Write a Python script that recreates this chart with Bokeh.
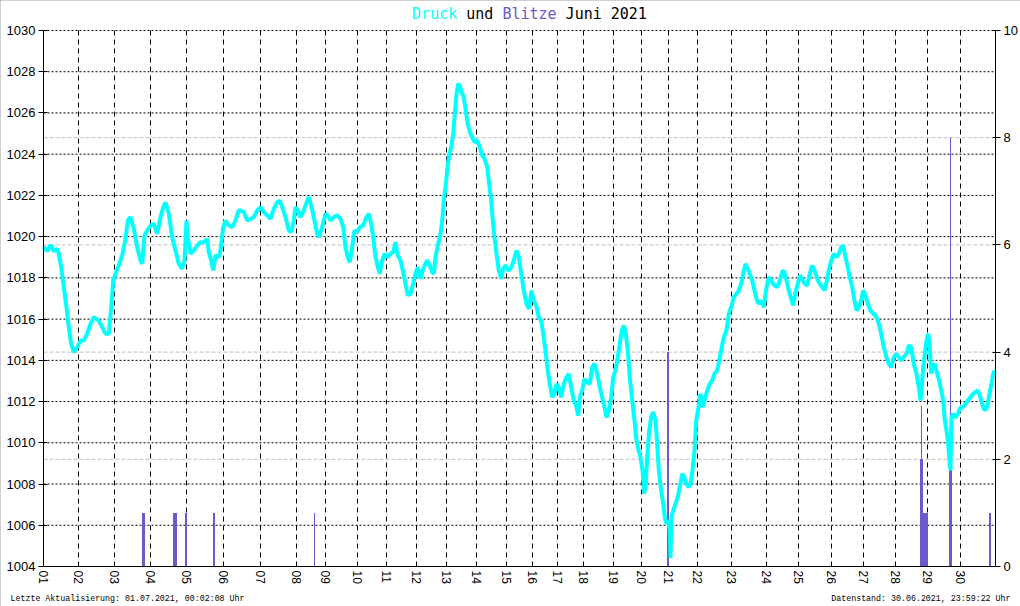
import math
from bokeh.plotting import figure
from bokeh.models import (Range1d, LinearAxis, FixedTicker, SingleIntervalTicker, Label)
from bokeh.embed import file_html
from bokeh.resources import INLINE

# ---------------- data ----------------
tage_pos = [0, 35, 71, 107, 143, 180, 217, 253, 282, 314, 343, 373, 403, 433, 463,
            489, 514, 540, 570, 598, 625, 654, 688, 723, 755, 788, 820, 852, 884, 917]
tage_labels = ["%02d" % d for d in range(1, 31)]
x_end = 952

druck_idx = [
    0, 4, 7, 10, 13.7, 15.3, 17.7, 20.3, 23, 25.3, 27.7, 30.3, 33.7, 37, 40.3, 43.7, 47, 50.3,
    55.3, 58.7, 62, 65.3, 67.7, 69.7, 72, 75.3, 78.7, 82, 84.3, 87, 90.3, 93.7, 97, 98.7, 101,
    103.7, 107, 110.3, 113.7, 117, 119.7, 122, 125.3, 128.7, 132, 135.3, 138.7, 141, 143, 144.3,
    147, 150.3, 153.7, 157, 160.3, 163.7, 165.3, 167.7, 169.7, 172, 175.3, 177, 179.7, 182,
    185.3, 188.7, 192, 195.3,
    197, 200.3, 203.7, 207, 210.3, 213.7, 217, 220.3, 223.7, 227, 230.3, 233.7, 236.3, 238.7,
    242, 245.3, 247.7, 250.3, 252, 254.3, 257, 260.3, 263.7, 265.3, 267.7, 270.3, 273.7, 275.3,
    278.7, 282, 284.3, 287, 290.3, 293.7, 297, 299.7, 302, 304.3, 306.3, 308.7, 311, 313.7,
    316.3, 319.7, 323, 325.3, 327.7, 329.7, 332, 334.3, 336.3, 338.7, 341, 343.7, 347, 349.7,
    352, 354.3, 357, 359.3, 362, 364.3, 367, 369.7, 372, 374.3,
    377, 380.3, 383.7, 386.3, 388.7, 390.3, 392, 394.3, 397, 398.7, 400.3, 402, 403.7, 405.3,
    407.7, 409.7, 411.3, 413, 414.7, 416.3, 418, 420.3, 422.7, 424.3, 426.3, 428.7, 431, 433.7,
    436.3, 438.7, 441, 443.7, 445.3, 447.7, 449.3, 451, 453, 455.3, 457.7, 459.7, 462, 464.7,
    467, 469.7, 473, 475.3, 477.7, 480.3, 483, 485.3, 488, 490.3, 492.7, 495.3, 497.7,
    499.7, 502, 504.3, 506.3, 508.7, 511, 513, 515.3, 517.7, 520.3, 523, 525.3, 527.7, 530.3,
    533, 534.7, 536.3, 538.7, 541, 543.7, 546.3, 548.7, 551, 553.7, 556.3, 558.7, 561, 563,
    565.3, 567.7, 569.7, 572, 574.3, 576.3, 578.3, 580.3, 582.3, 584.3, 586.3, 588.7, 591, 593,
    595, 597, 599, 600.7, 602.3, 603.7, 605.7, 607.7, 609.7, 612, 613.7, 615.3, 617.7, 619.7,
    621.3, 623, 624.7, 626.3, 627, 628, 629.7, 632, 634.3, 636.3, 638.7, 641, 643, 645, 647,
    649, 651, 652.7, 655, 657, 659, 661, 663.7, 666.3, 668.7, 671, 673.7, 675.7,
    677, 680.3, 683, 685.3, 687.7, 690.3, 693, 695.3, 697.7, 699.7, 702, 704.3, 706.3, 708.7,
    711, 713, 715.3, 717.7, 720.3, 722, 724.3, 726.3, 728.7, 731, 733.7, 736.3, 738.7, 740.3,
    742.7, 745.3, 747.7, 749.7, 752, 754.3, 756.3, 758.7, 761, 763.7, 766.3, 768.7, 771, 773.7,
    776.3, 778.7, 781, 783, 785.3, 787.7, 790.3, 793, 795.3, 797.7, 799.7, 802, 804.3, 806.3,
    808.7, 811, 813, 815.3, 817.7, 819.7, 822, 824.3, 827, 829.7, 832, 834.3, 836.3,
    840.3, 843, 845.3, 847.7, 850.3, 853, 855.3, 857.7, 860.3, 863, 865.3, 867.7, 870.3, 873,
    875.3, 877, 878.3, 879.7, 881.3, 883, 884.7, 886.3, 887.7, 889.3, 891.3, 893.7, 895.7,
    897.7, 899.7, 901.3, 903, 904.7, 906, 907, 908, 909.7, 912, 914.3, 917, 919.7, 922, 924.3,
    927, 929.7, 932, 934.3, 936.3, 938.7, 941, 943.7, 946, 948, 949.7, 951.3,
]
druck_hpa = [
    1019.5, 1019.3, 1019.6, 1019.3, 1019.41, 1019.17, 1018.52, 1017.55, 1016.58, 1015.61,
    1014.80, 1014.40, 1014.64, 1014.96, 1014.96, 1015.29, 1015.77, 1016.09, 1015.93, 1015.61,
    1015.29, 1015.29, 1016.58, 1017.87, 1018.20, 1018.60, 1019.09, 1019.89, 1020.78, 1020.95,
    1020.38, 1019.49, 1018.84, 1018.68, 1020.06, 1020.30, 1020.54, 1020.62, 1020.14, 1020.95,
    1021.43, 1021.67, 1021.11, 1019.97, 1019.33, 1018.68, 1018.44, 1018.84, 1020.78, 1019.97,
    1019.17, 1019.33, 1019.57, 1019.73, 1019.73, 1019.89, 1019.25, 1018.84, 1018.36, 1019.09,
    1019.00, 1019.33, 1020.46, 1020.78, 1020.54, 1020.46, 1020.78, 1021.27,
    1021.27, 1021.19, 1020.78, 1020.86, 1020.95, 1021.27, 1021.43, 1021.19, 1021.03, 1020.86,
    1021.35, 1021.67, 1021.75, 1021.43, 1020.95, 1020.30, 1020.22, 1020.78, 1021.43, 1021.27,
    1020.95, 1021.27, 1021.75, 1021.92, 1021.51, 1020.95, 1020.14, 1019.97, 1020.46, 1021.11,
    1021.03, 1020.78, 1020.95, 1021.03, 1020.86, 1020.46, 1019.49, 1019.00, 1018.76, 1019.49,
    1020.30, 1020.22, 1020.46, 1020.54, 1020.95, 1021.11, 1020.62, 1019.97, 1019.00, 1018.52,
    1018.20, 1018.84, 1019.17, 1019.00, 1019.17, 1019.25, 1019.73, 1019.09, 1018.84, 1018.36,
    1017.71, 1017.15, 1017.23, 1017.71, 1018.20, 1018.52,
    1017.96, 1018.52, 1018.85, 1018.60, 1018.28, 1018.20, 1019.01, 1019.57, 1020.14, 1020.78,
    1021.75, 1022.40, 1023.21, 1023.86, 1024.34, 1024.99, 1025.96, 1026.93, 1027.41, 1027.33,
    1027.01, 1026.77, 1025.96, 1025.47, 1025.07, 1024.83, 1024.58, 1024.67, 1024.34, 1023.94,
    1023.78, 1023.37, 1022.72, 1021.75, 1020.78, 1019.97, 1019.17, 1018.36, 1017.96, 1018.44,
    1018.60, 1018.36, 1018.44, 1018.76, 1019.33, 1019.01, 1018.20, 1017.39, 1016.74, 1016.50,
    1017.39, 1016.90, 1016.66, 1016.09, 1015.93,
    1015.28, 1014.48, 1013.51, 1012.86, 1012.21, 1012.38, 1012.86, 1012.70, 1012.21, 1012.86,
    1013.18, 1013.35, 1012.70, 1012.05, 1011.73, 1011.32, 1012.21, 1012.54, 1013.10, 1012.94,
    1012.86, 1013.67, 1013.83, 1013.35, 1012.70, 1012.21, 1011.73, 1011.24, 1011.57, 1012.21,
    1013.18, 1013.51, 1014.15, 1014.80, 1015.45, 1015.69, 1015.28, 1014.48, 1013.18, 1012.05,
    1011.08, 1010.11, 1009.63, 1009.30, 1008.66, 1007.53, 1008.01, 1009.30, 1010.60, 1011.24,
    1011.49, 1011.08, 1009.95, 1008.66, 1007.69, 1007.04, 1006.39, 1006.07, 1006.23, 1005.75,
    1004.40, 1006.39, 1006.72, 1007.04, 1007.36, 1007.85, 1008.50, 1008.33, 1008.01, 1007.85,
    1008.01, 1008.66, 1009.63, 1011.08, 1011.73, 1012.38, 1011.73, 1012.05, 1012.54, 1012.86,
    1013.02, 1013.35, 1013.51, 1014.00,
    1014.32, 1015.12, 1015.45, 1016.26, 1016.58, 1017.06, 1017.23, 1017.39, 1017.71, 1018.20,
    1018.68, 1018.44, 1018.20, 1017.87, 1017.39, 1016.98, 1016.74, 1016.90, 1016.58, 1017.23,
    1017.87, 1018.03, 1017.79, 1017.63, 1017.55, 1017.87, 1018.28, 1018.36, 1017.95, 1017.39,
    1016.98, 1016.66, 1017.31, 1017.71, 1018.12, 1017.95, 1017.71, 1017.63, 1018.20, 1018.60,
    1018.36, 1017.95, 1017.71, 1017.55, 1017.39, 1017.79, 1018.36, 1018.84, 1019.17, 1019.00,
    1019.17, 1019.49, 1019.57, 1019.00, 1018.52, 1018.03, 1017.55, 1016.90, 1016.42, 1016.58,
    1016.90, 1017.39, 1017.15, 1016.74, 1016.42, 1016.26, 1016.18, 1015.93, 1015.61,
    1014.64, 1014.15, 1013.83, 1013.67, 1014.15, 1014.32, 1014.15, 1013.99, 1014.15, 1014.32,
    1014.72, 1014.64, 1013.83, 1013.35, 1012.70, 1012.05, 1012.70, 1013.67, 1014.32, 1014.96,
    1015.29, 1014.64, 1013.35, 1013.67, 1013.83, 1013.35, 1013.02, 1012.54, 1012.05, 1011.08,
    1010.60, 1009.95, 1009.14, 1008.66, 1011.24, 1011.40, 1011.24, 1011.40, 1011.73, 1011.73,
    1011.89, 1012.05, 1012.21, 1012.38, 1012.46, 1012.54, 1012.30, 1011.89, 1011.57, 1011.73,
    1012.38, 1012.86, 1013.35, 1013.51,
]

blitz_idx = [99, 100, 101, 130, 131, 132, 133, 142, 143, 170, 171, 271, 624, 625,
             877, 878, 879, 880, 881, 882, 883, 884, 906, 907, 908, 946, 947]
blitz_anz = [1, 1, 1, 1, 1, 1, 1, 1, 1, 1, 1, 1, 4, 4,
             2, 3, 2, 1, 1, 1, 1, 1, 2, 8, 2, 1, 1]

druck_min, druck_max = 1004, 1030
blitz_min, blitz_max = 0, 10
druck_ticks = list(range(druck_min, druck_max + 1, 2))
blitz_ticks = [0, 2, 4, 6, 8, 10]

# title words: (text, colour, character column in the monospace title line)
titel_teile = [("Druck", "#00ffff", 0), ("und", "#000000", 6),
               ("Blitze", "#6a5acd", 10), ("Juni 2021", "#000000", 17)]
titel_len = 26
fuss_links = "Letzte Aktualisierung: 01.07.2021, 00:02:08 Uhr"
fuss_rechts = "Datenstand: 30.06.2021, 23:59:22 Uhr"

# ---------------- layout (pixels) ----------------
W, H = 1020, 606
FL, FR, FT, FB = 43, 995, 30, 566          # plot area edges in pixels
sx = (FR - FL) / x_end                     # px per x unit
sy = (FB - FT) / (druck_max - druck_min)   # px per hPa
sb = (FB - FT) / (blitz_max - blitz_min)   # px per flash

x_range = Range1d(-FL / sx, (W - FL) / sx)
y_range = Range1d(druck_min - (H - FB) / sy, druck_max + FT / sy)
b_range = Range1d(blitz_min - (H - FB) / sb, blitz_max + FT / sb)

def xpx(px):
    return (px - FL) / sx

def ypx(py):
    return druck_max - (py - FT) / sy

p = figure(width=W, height=H, output_backend="svg", toolbar_location=None,
           x_range=x_range, y_range=y_range, min_border=0)
p.extra_y_ranges = {"blitz": b_range}
p.outline_line_color = None
p.background_fill_color = "white"
p.border_fill_color = "white"
p.xgrid.visible = False
p.ygrid.visible = False
p.styles = {"outline": "2px solid #a0a0a0", "outline-offset": "-2px"}

lab_font = "Liberation Sans"

# x axis (bottom of plot area)
xa = p.xaxis[0]
xa.fixed_location = druck_min
xa.bounds = (0, x_end)
xa.ticker = FixedTicker(ticks=tage_pos)
xa.major_label_overrides = {t: l for t, l in zip(tage_pos, tage_labels)}
xa.major_label_orientation = -math.pi / 2
xa.major_tick_in = 0
xa.major_tick_out = 0
xa.minor_tick_line_color = None
xa.axis_line_color = "black"
xa.major_label_text_color = "black"
xa.major_label_text_font = lab_font
xa.major_label_text_font_size = "12px"
xa.major_label_standoff = 4

# left axis
ya = p.yaxis[0]
ya.fixed_location = 0
ya.bounds = (druck_min, druck_max)
ya.ticker = SingleIntervalTicker(interval=2, num_minor_ticks=0)
ya.major_tick_in = 4
ya.major_tick_out = 5
ya.minor_tick_line_color = None
ya.axis_line_color = "black"
ya.major_tick_line_color = "black"
ya.major_label_text_color = "black"
ya.major_label_text_font = lab_font
ya.major_label_text_font_size = "13px"
ya.major_label_standoff = 3

# right axis
ra = LinearAxis(y_range_name="blitz", ticker=FixedTicker(ticks=blitz_ticks),
                fixed_location=x_end, bounds=(blitz_min, blitz_max))
ra.major_tick_in = 3
ra.major_tick_out = 5
ra.minor_tick_line_color = None
ra.axis_line_color = "black"
ra.major_tick_line_color = "black"
ra.major_label_text_color = "black"
ra.major_label_text_font = lab_font
ra.major_label_text_font_size = "13px"
ra.major_label_standoff = 3
p.add_layout(ra, "right")

# grid lines (from tick lists)
vx = tage_pos[1:]
p.segment(x0=vx, y0=[druck_min] * len(vx), x1=vx, y1=[druck_max] * len(vx),
          line_color="black", line_dash="5 4", line_width=1)
hy = druck_ticks[1:]
p.segment(x0=[0] * len(hy), y0=hy, x1=[x_end] * len(hy), y1=hy,
          line_color="black", line_dash="2 2", line_width=1)
gy = blitz_ticks[1:-1]
p.segment(x0=[0] * len(gy), y0=gy, x1=[x_end] * len(gy), y1=gy, y_range_name="blitz",
          line_color="#c0c0c0", line_dash="4 2", line_width=1)

# data
p.vbar(x=blitz_idx, width=1, top=blitz_anz, bottom=0, y_range_name="blitz",
       fill_color="#6a5acd", line_color=None)
p.line(druck_idx, druck_hpa, line_color="#00ffff", line_width=4)

# title (multi-colour, monospace)
title_size = 15
cw = 0.602 * title_size
start_px = 529 - titel_len * cw / 2
for txt, col, spalte in titel_teile:
    p.add_layout(Label(x=xpx(start_px + spalte * cw), y=ypx(13),
                       text=txt, text_color=col, text_font="DejaVu Sans Mono",
                       text_font_size="%dpx" % title_size, text_baseline="middle",
                       text_align="left"))

# footer
p.add_layout(Label(x=xpx(10), y=ypx(598), text=fuss_links, text_color="black",
                   text_font="Liberation Mono", text_font_size="8.3px",
                   text_baseline="middle", text_align="left"))
p.add_layout(Label(x=xpx(1010), y=ypx(598), text=fuss_rechts, text_color="black",
                   text_font="Liberation Mono", text_font_size="8.3px",
                   text_baseline="middle", text_align="right"))

open("out.html", "w").write(file_html(p, INLINE))
